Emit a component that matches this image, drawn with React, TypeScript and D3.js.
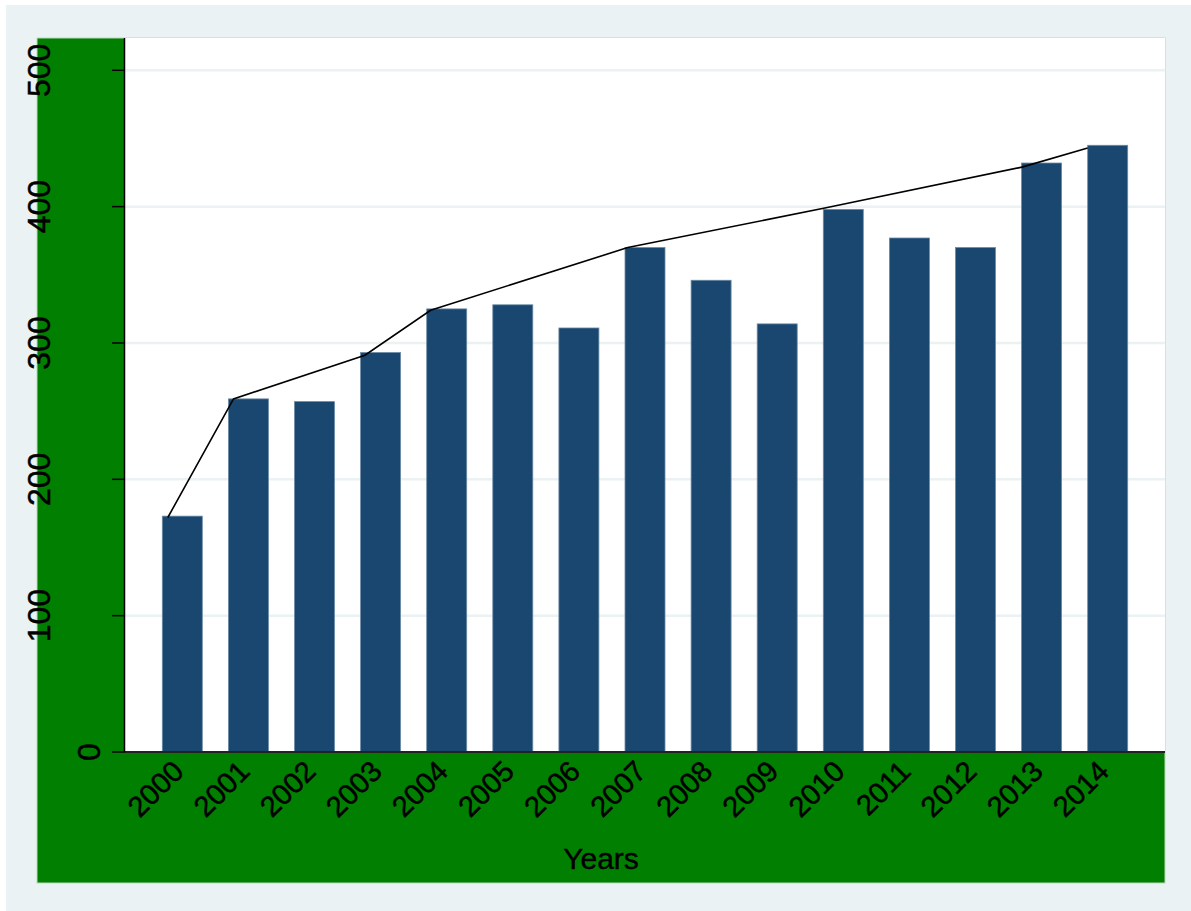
import React from "react";
import * as d3 from "d3";

const years: number[] = [2000, 2001, 2002, 2003, 2004, 2005, 2006, 2007, 2008, 2009, 2010, 2011, 2012, 2013, 2014];
const barValues: number[] = [173, 259, 257, 293, 325, 328, 311, 370, 346, 314, 398, 377, 370, 432, 445];
const lineYears: number[] = [2000, 2001, 2003, 2004, 2007, 2010, 2013, 2014];
const lineValues: number[] = [172, 259, 291, 324, 370, 399, 429, 443];
const yTicks: number[] = [0, 100, 200, 300, 400, 500];
const xTitle = "Years";

const W = 1191;
const H = 911;
const FONT = "'Liberation Sans', Arial, Helvetica, sans-serif";

export default function App() {
  const left = 125, right = 1165, top = 38, bottom = 752;
  const x = d3.scaleBand<number>().domain(years).range([left, right]).paddingInner(0.395).paddingOuter(0.5645);
  const y = d3.scaleLinear().domain([0, 500]).range([bottom, 70.3]);
  const xl = d3.scaleLinear().domain([years[0], years[years.length - 1]])
    .range([(x(years[0]) as number) + 5.5, x(years[years.length - 1]) as number]);
  const lineGen = d3.line<number>().x((_, i) => xl(lineYears[i])).y((v) => y(v));
  const bw = x.bandwidth();

  return (
    <svg width={W} height={H} style={{ position: "absolute", left: 0, top: 0 }} fontFamily={FONT}>
      <rect x={0} y={0} width={W} height={H} fill="#ffffff" />
      <rect x={6} y={5} width={W - 6} height={H - 5} fill="#eaf2f3" />
      <rect x={37} y={38} width={1128} height={845} fill="#007f00" stroke="#b9dab9" strokeWidth={1} />
      <rect x={left} y={top} width={right - left} height={bottom - top} fill="#ffffff" />
      {yTicks.filter((t) => t > 0).map((t) => (
        <line key={"g" + t} x1={left} x2={right} y1={y(t)} y2={y(t)} stroke="#eaf2f3" strokeWidth={2.5} />
      ))}
      {years.map((yr, i) => (
        <rect key={"b" + yr} x={x(yr)} y={y(barValues[i])} width={bw} height={y(0) - y(barValues[i])}
          fill="#1a476f" stroke="#6a8aa6" strokeWidth={0.8} />
      ))}
      <path d={lineGen(lineValues) || ""} fill="none" stroke="#000000" strokeWidth={1.6} />
      <line x1={left} x2={right} y1={bottom} y2={bottom} stroke="#222222" strokeWidth={1.8} />
      <line x1={left - 0.5} x2={left - 0.5} y1={top} y2={bottom} stroke="#000000" strokeWidth={1.5} />
      {yTicks.map((t) => {
        const lbl = String(t);
        const tx = 125 - 25 * lbl.length;
        return (
          <g key={"t" + t}>
            <line x1={112} x2={left} y1={y(t)} y2={y(t)} stroke="#000000" strokeWidth={1.5} />
            <text x={tx} y={y(t)} transform={`rotate(-90 ${tx} ${y(t)})`} textAnchor="middle" fontSize={32}
              fill="#000" stroke="#000" strokeWidth={0.5}>{lbl}</text>
          </g>
        );
      })}
      {years.map((yr) => {
        const cx = (x(yr) as number) + bw / 2 + 3;
        const cy = 773;
        return (
          <text key={"x" + yr} x={cx} y={cy} transform={`rotate(-45 ${cx} ${cy})`} textAnchor="end" fontSize={29}
            fill="#000" stroke="#000" strokeWidth={0.5}>{yr}</text>
        );
      })}
      <text x={601} y={869} textAnchor="middle" fontSize={30} fill="#000" stroke="#000" strokeWidth={0.4}>{xTitle}</text>
    </svg>
  );
}
